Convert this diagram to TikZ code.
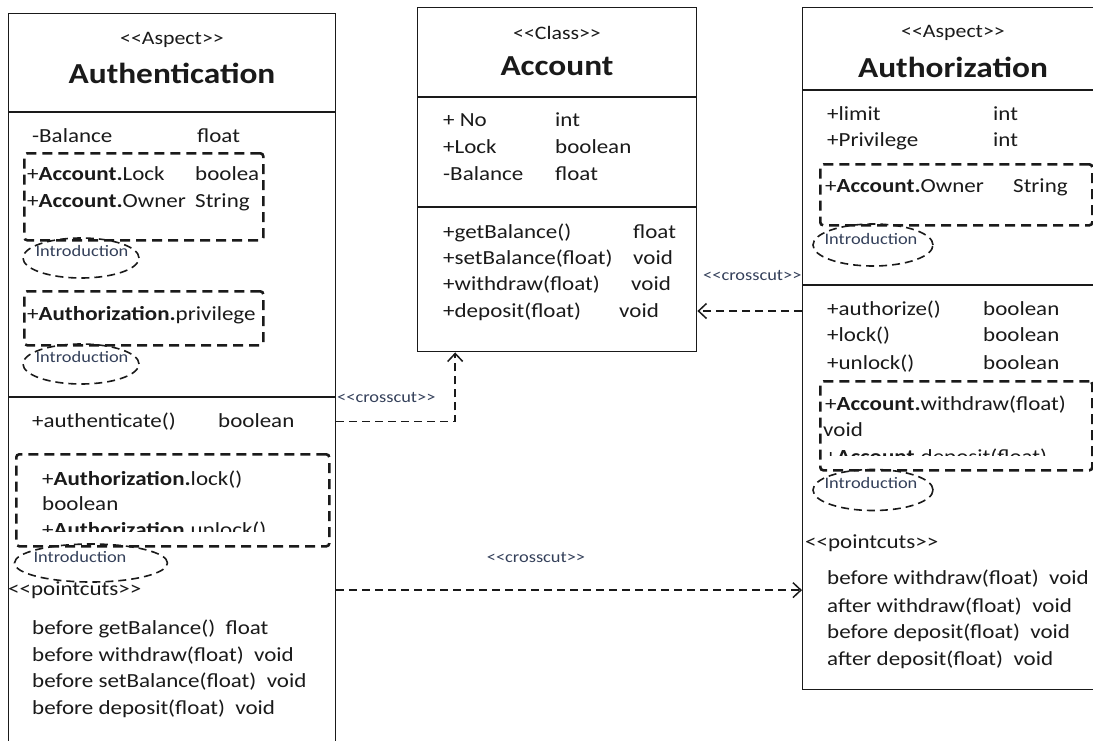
\documentclass[tikz,border=0pt]{standalone}
\usepackage{fontspec}
\setmainfont{Carlito}[FakeStretch=1.15]
\usetikzlibrary{arrows.meta,shapes.geometric}
\definecolor{ink}{HTML}{1A1A1A}
\definecolor{introink}{HTML}{34405A}
\newcommand\stopen{<\kern0pt<}
\newcommand\stclose{>\kern0pt>}
\tikzset{
  umlbox/.style={draw=ink, line width=1.4pt, rectangle, inner sep=0pt, anchor=north west},
  txt/.style={anchor=mid west, inner sep=0pt, text=ink, font=\fontsize{20}{24}\selectfont},
  stereo/.style={inner sep=0pt, text=ink, font=\fontsize{19}{22}\selectfont},
  title/.style={inner sep=0pt, text=ink, font=\fontsize{29}{34}\selectfont\bfseries},
  intro/.style={inner sep=0pt, text=introink, font=\fontsize{16}{19}\selectfont},
  introring/.style={draw=ink, ellipse, inner sep=0pt, line width=1.6pt, dash pattern=on 8pt off 5pt},
  dashbox/.style={draw=ink, rectangle, inner sep=0pt, anchor=north west, line width=2.6pt, dash pattern=on 10pt off 6pt, rounded corners=3pt},
  crosscut/.style={draw=ink, line width=1.5pt, dash pattern=on 8pt off 5pt, -{Straight Barb[length=8pt,width=15pt]}},
  cclabel/.style={inner sep=0pt, text=introink, font=\fontsize{16}{18}\selectfont}
}
\begin{document}
\begin{tikzpicture}[x=1pt,y=-1pt]
\useasboundingbox (0,0) rectangle (1093,740);
\clip (0,0) rectangle (1093,740);
\fill[white] (0,0) rectangle (1093,740);

% Authentication aspect
\node[umlbox, minimum width=327pt, minimum height=760pt] (authn) at (8,13) {};
\draw[ink, line width=1.4pt] (authn.west |- 0,112) -- (authn.east |- 0,112);
\draw[ink, line width=1.4pt] (authn.west |- 0,397) -- (authn.east |- 0,397);
\node[stereo] (authnst) at (172,40) {\stopen Aspect\stclose};
\node[title] (authnname) at (172,73) {Authentication};
\node[txt] (abal) at (32,140) {-Balance};
\node[txt] (abalt) at (197,140) {float};
\node[dashbox, minimum width=239pt, minimum height=87pt] (inc1) at (23,152) {};
\node[txt] (alock) at (27,178) {+\textbf{Account.}Lock};
\node[txt] (alockt) at (195,178) {boolea};
\node[txt] (aowner) at (27,205) {+\textbf{Account.}Owner};
\node[txt] (aownert) at (195,205) {String};
\node[introring, minimum width=116pt, minimum height=40pt] (ring1) at (81,258) {};
\node[intro] (intro1) at (82,251) {Introduction};
\node[dashbox, minimum width=239pt, minimum height=54pt] (inc2) at (23,290) {};
\node[txt] (apriv) at (27,318) {+\textbf{Authorization.}privilege};
\node[introring, minimum width=116pt, minimum height=40pt] (ring2) at (81,364) {};
\node[intro] (intro2) at (82,357) {Introduction};
\node[txt] (authenticate) at (32,425) {+authenticate()};
\node[txt] (authenticatet) at (218,425) {boolean};
\node[dashbox, minimum width=313pt, minimum height=92pt] (inc3) at (15,453) {};
\node[txt] (alockm) at (42,483) {+\textbf{Authorization.}lock()};
\node[txt] (alockmt) at (42,508) {boolean};
\begin{scope}
\clip (20,455) rectangle (325,531);
\node[txt] (aunlockm) at (42,534) {+\textbf{Authorization.}unlock()};
\end{scope}
\node[introring, minimum width=153pt, minimum height=38pt] (ring3) at (91,563) {};
\node[intro] (intro3) at (80,557) {Introduction};
\node[txt] (apc) at (8,593) {\stopen pointcuts\stclose};
\node[txt] (apc1) at (32,632) {before getBalance()\ \ float};
\node[txt] (apc2) at (32,659) {before withdraw(float)\ \ void};
\node[txt] (apc3) at (32,685) {before setBalance(float)\ \ void};
\node[txt] (apc4) at (32,712) {before deposit(float)\ \ void};

% Account class
\node[umlbox, minimum width=279pt, minimum height=344pt] (account) at (417,7) {};
\draw[ink, line width=1.4pt] (account.west |- 0,97) -- (account.east |- 0,97);
\draw[ink, line width=1.4pt] (account.west |- 0,207) -- (account.east |- 0,207);
\node[stereo] (accst) at (557,33) {\stopen Class\stclose};
\node[title] (accname) at (557,66) {Account};
\node[txt] (cno) at (443,124) {+ No};
\node[txt] (cnot) at (555,124) {int};
\node[txt] (clock) at (443,151) {+Lock};
\node[txt] (clockt) at (555,151) {boolean};
\node[txt] (cbal) at (443,178) {-Balance};
\node[txt] (cbalt) at (555,178) {float};
\node[txt] (cget) at (443,236) {+getBalance()};
\node[txt] (cgett) at (633,236) {float};
\node[txt] (cset) at (443,262) {+setBalance(float)};
\node[txt] (csett) at (633,262) {void};
\node[txt] (cwith) at (443,288) {+withdraw(float)};
\node[txt] (cwitht) at (631,288) {void};
\node[txt] (cdep) at (443,315) {+deposit(float)};
\node[txt] (cdept) at (619,315) {void};

% Authorization aspect
\node[umlbox, minimum width=318pt, minimum height=682pt] (authz) at (802,7) {};
\draw[ink, line width=1.4pt] (authz.west |- 0,90) -- (authz.east |- 0,90);
\draw[ink, line width=1.4pt] (authz.west |- 0,285) -- (authz.east |- 0,285);
\node[stereo] (authzst) at (953,33) {\stopen Aspect\stclose};
\node[title] (authzname) at (953,67) {Authorization};
\node[txt] (zlimit) at (827,118) {+limit};
\node[txt] (zlimitt) at (993,118) {int};
\node[txt] (zpriv) at (827,144) {+Privilege};
\node[txt] (zprivt) at (993,144) {int};
\node[dashbox, minimum width=272pt, minimum height=61pt] (inc4) at (819,163) {};
\node[txt] (zowner) at (825,190) {+\textbf{Account.}Owner};
\node[txt] (zownert) at (1013,190) {String};
\node[introring, minimum width=120pt, minimum height=42pt] (ring4) at (873,245) {};
\node[intro] (intro4) at (871,239) {Introduction};
\node[txt] (authorize) at (827,313) {+authorize()};
\node[txt] (authorizet) at (983,313) {boolean};
\node[txt] (zlock) at (827,339) {+lock()};
\node[txt] (zlockt) at (983,339) {boolean};
\node[txt] (zunlock) at (827,367) {+unlock()};
\node[txt] (zunlockt) at (983,367) {boolean};
\node[dashbox, minimum width=272pt, minimum height=89pt] (inc5) at (819,380) {};
\node[txt] (zwith) at (825,408) {+\textbf{Account.}withdraw(float)};
\node[txt] (zwitht) at (823,434) {void};
\begin{scope}
\clip (822,382) rectangle (1088,455);
\node[txt] (zdep) at (825,461) {+\textbf{Account.}deposit(float)};
\end{scope}
\node[introring, minimum width=120pt, minimum height=41pt] (ring5) at (873,490) {};
\node[intro] (intro5) at (871,483) {Introduction};
\node[txt] (zpc) at (805,546) {\stopen pointcuts\stclose};
\node[txt] (zpc1) at (827,582) {before withdraw(float)\ \ void};
\node[txt] (zpc2) at (827,610) {after withdraw(float)\ \ void};
\node[txt] (zpc3) at (827,636) {before deposit(float)\ \ void};
\node[txt] (zpc4) at (827,663) {after deposit(float)\ \ void};

% crosscuts
\draw[crosscut] (authn.east |- authenticate) -| ([xshift=-102pt]account.south);
\node[cclabel, anchor=mid west] (cc1) at (337,400) {\stopen crosscut\stclose};
\draw[crosscut] (authz.west |- 0,311) -- (account.east |- 0,311);
\node[cclabel, anchor=mid west] (cc2) at (703,278) {\stopen crosscut\stclose};
\draw[crosscut] (authn.east |- apc) -- (authz.west |- apc);
\node[cclabel] (cc3) at (536,557) {\stopen crosscut\stclose};
\end{tikzpicture}
\end{document}
